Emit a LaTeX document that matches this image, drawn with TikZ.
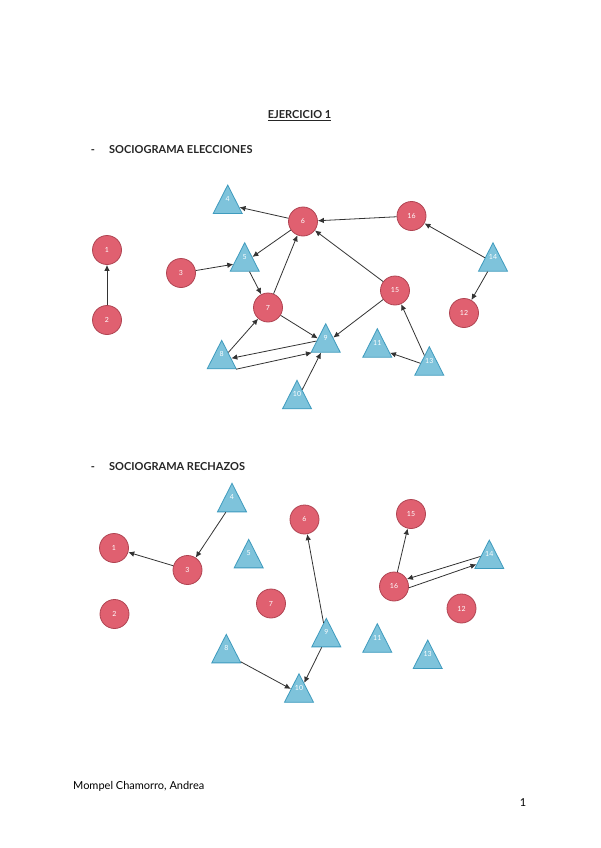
\documentclass[tikz,border=0pt]{standalone}
\usepackage{fontspec}
\setmainfont{Lato}
\setsansfont{Lato}
\usetikzlibrary{shapes.geometric,arrows.meta}
\definecolor{cfill}{RGB}{224,96,112}
\definecolor{cdraw}{RGB}{176,68,82}
\definecolor{tfill}{RGB}{126,195,219}
\definecolor{tdraw}{RGB}{63,155,190}
\definecolor{edgec}{RGB}{51,51,51}
\tikzset{
  nlab/.style={text=white,font=\sffamily\fontsize{7}{8}\selectfont,inner sep=0pt},
  circ/.style={circle,fill=cfill,draw=cdraw,line width=0.8pt,minimum size=29pt,inner sep=0pt,nlab},
  tri/.style={isosceles triangle,isosceles triangle stretches,shape border rotate=90,anchor=apex,
    fill=tfill,draw=tdraw,line width=0.8pt,minimum width=29pt,minimum height=28.5pt,inner sep=0pt,
    label={[nlab,anchor=center,yshift=-15pt]apex:#1}},
  arr/.style={draw=edgec,line width=0.8pt,-{Latex[length=6pt,width=5.5pt]}},
  plain/.style={font=\fontsize{11}{13}\selectfont,text=black,inner sep=0pt},
  head/.style={font=\bfseries\fontsize{11}{13}\selectfont,text=black!85,inner sep=0pt}
}
\begin{document}
\begin{tikzpicture}[x=1pt,y=-1pt]
\useasboundingbox[fill=white] (0,0) rectangle (600,848);
% texts
\node[head,anchor=base] (title) at (299.5,119) {\underline{EJERCICIO 1}};
\node[head,anchor=base] (d1) at (93,153.5) {-};
\node[head,anchor=base west] (h1) at (109,153.5) {SOCIOGRAMA ELECCIONES};
\node[head,anchor=base] (d2) at (93,470) {-};
\node[head,anchor=base west] (h2) at (109,470) {SOCIOGRAMA RECHAZOS};
\node[plain,anchor=base west] (author) at (73,789) {Mompel Chamorro, Andrea};
\node[plain,anchor=base] (page) at (523,806) {1};
% ---- chart 1
\node[circ] (a1) at (107,250) {1};
\node[circ] (a2) at (107,320) {2};
\node[circ] (a3) at (181,273) {3};
\node[tri=4] (a4) at (227.7,184) {};
\node[tri=5] (a5) at (244.7,241.7) {};
\node[circ] (a6) at (303,221.5) {6};
\node[circ] (a7) at (268,307.5) {7};
\node[tri=8] (a8) at (221.7,339.3) {};
\node[tri=9] (a9) at (325.7,322.7) {};
\node[tri=10] (a10) at (297,379.3) {};
\node[tri=11] (a11) at (377.3,327.7) {};
\node[circ] (a12) at (464,313) {12};
\node[tri=13] (a13) at (429.3,345.7) {};
\node[tri=14] (a14) at (493,241.7) {};
\node[circ] (a15) at (395,290.5) {15};
\node[circ] (a16) at (411.5,216) {16};
\draw[arr] (a2) -- (a1);
\draw[arr] (a3) -- (a5);
\draw[arr] (a6) -- (a4);
\draw[arr] (a6) -- (a5);
\draw[arr] (a5) -- (a7);
\draw[arr] (a7) -- (a6);
\draw[arr] (a7) -- (a9);
\draw[arr] (a8) -- (a7);
\draw[arr] (a9.166) -- (a8.10);
\draw[arr] (a8.-33) -- (a9.214);
\draw[arr] (a10) -- (a9);
\draw[arr] (a16) -- (a6);
\draw[arr] (a15) -- (a6);
\draw[arr] (a15) -- (a9);
\draw[arr] (a14) -- (a16);
\draw[arr] (a14) -- (a12);
\draw[arr] (a13) -- (a15);
\draw[arr] (a13) -- (a11);
% ---- chart 2
\node[circ] (b1) at (114,548) {1};
\node[circ] (b2) at (114.5,614) {2};
\node[circ] (b3) at (187.5,570) {3};
\node[tri=4] (b4) at (232,482.3) {};
\node[tri=5] (b5) at (248.7,538.3) {};
\node[circ] (b6) at (304.5,519.5) {6};
\node[circ] (b7) at (271,603.5) {7};
\node[tri=8] (b8) at (226.3,633.3) {};
\node[tri=9] (b9) at (326.3,617.3) {};
\node[tri=10] (b10) at (299,672.7) {};
\node[tri=11] (b11) at (377.3,622.7) {};
\node[circ] (b12) at (461.5,608.5) {12};
\node[tri=13] (b13) at (427.7,639) {};
\node[tri=14] (b14) at (489.3,539) {};
\node[circ] (b15) at (411,514) {15};
\node[circ] (b16) at (394,586.5) {16};
\draw[arr] (b4) -- (b3);
\draw[arr] (b3) -- (b1);
\draw[arr] (b9) -- (b6);
\draw[arr] (b9) -- (b10);
\draw[arr] (b8) -- (b10);
\draw[arr] (b16) -- (b15);
\draw[arr] (b14.160) -- (b16.30);
\draw[arr] (b16.-5) -- (b14.200);
\end{tikzpicture}
\end{document}
